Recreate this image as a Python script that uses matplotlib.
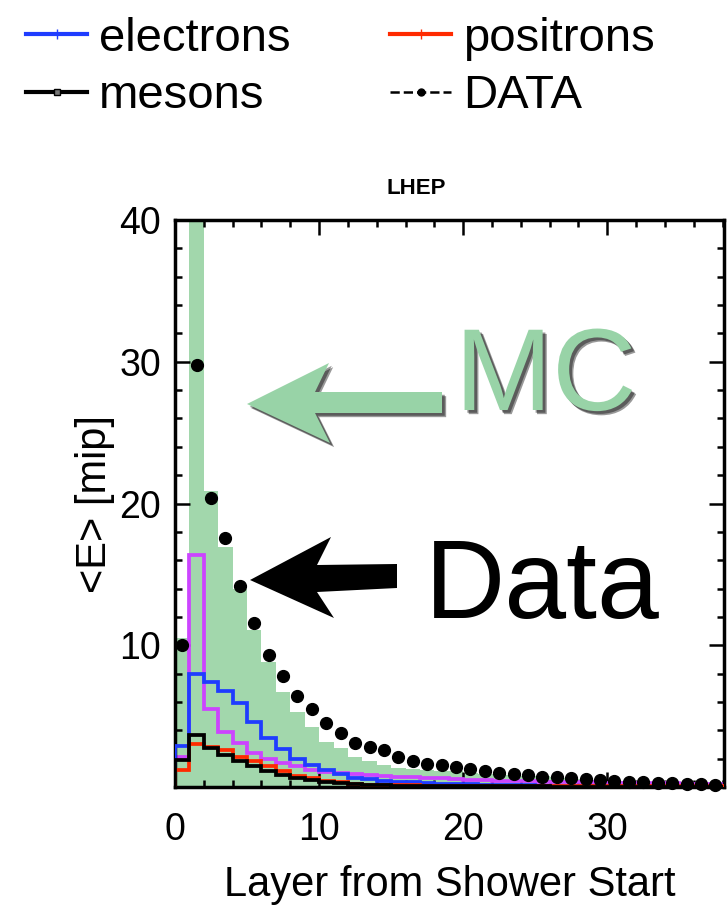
import numpy as np
import matplotlib
matplotlib.use('Agg')
import matplotlib.pyplot as plt
import matplotlib.transforms as mtrans
import matplotlib.patheffects as pe
from matplotlib.patches import Polygon
from matplotlib.lines import Line2D

plt.rcParams['font.family'] = ['Liberation Sans', 'DejaVu Sans']

# layer bins 0..38, one value per layer
edges = np.arange(0, 39)
layer_mid = edges[:-1] + 0.5

data = [10.0, 29.8, 20.4, 17.6, 14.2, 11.6, 9.3, 7.8, 6.4, 5.5,
        4.5, 3.8, 3.1, 2.8, 2.6, 2.15, 1.85, 1.65, 1.55, 1.43,
        1.28, 1.13, 1.0, 0.92, 0.85, 0.73, 0.68, 0.61, 0.56, 0.49,
        0.44, 0.37, 0.33, 0.30, 0.26, 0.21, 0.19, 0.14]

mc_band = [10.5, 45.0, 20.9, 16.9, 14.0, 11.1, 8.8, 6.7, 5.3, 4.2,
           3.2, 2.75, 2.15, 1.8, 1.55, 1.35, 1.3, 1.2, 1.15, 1.1,
           1.0, 0.95, 0.9, 0.85, 0.8, 0.75, 0.7, 0.6, 0.55, 0.5,
           0.45, 0.4, 0.35, 0.3, 0.3, 0.25, 0.25, 0.2]

electrons = [2.9, 8.0, 7.4, 6.8, 5.9, 4.6, 3.45, 2.65, 2.0, 1.55,
             1.2, 0.9, 0.65, 0.55, 0.45, 0.38, 0.32, 0.27, 0.23, 0.2,
             0.18, 0.16, 0.14, 0.12, 0.11, 0.1, 0.09, 0.08, 0.07, 0.07,
             0.06, 0.06, 0.05, 0.05, 0.05, 0.04, 0.04, 0.04]

gammas = [2.1, 16.4, 5.5, 3.9, 3.1, 2.4, 2.0, 1.67, 1.5, 1.2,
          1.08, 1.0, 0.9, 0.85, 0.75, 0.73, 0.7, 0.65, 0.6, 0.55,
          0.5, 0.48, 0.45, 0.42, 0.4, 0.38, 0.36, 0.34, 0.32, 0.3,
          0.3, 0.28, 0.27, 0.26, 0.25, 0.24, 0.23, 0.22]

positrons = [1.2, 3.0, 2.85, 2.6, 2.15, 1.8, 1.45, 1.1, 0.8, 0.6,
             0.45, 0.32, 0.22, 0.16, 0.13, 0.12, 0.11, 0.1, 0.1, 0.1,
             0.09, 0.09, 0.08, 0.08, 0.08, 0.07, 0.07, 0.07, 0.06, 0.06,
             0.06, 0.05, 0.05, 0.05, 0.05, 0.04, 0.04, 0.04]

mesons = [1.9, 3.7, 2.75, 2.25, 1.8, 1.45, 1.1, 0.85, 0.65, 0.48,
          0.36, 0.27, 0.2, 0.15, 0.12, 0.1, 0.09, 0.08, 0.07, 0.06,
          0.06, 0.05, 0.05, 0.04, 0.04, 0.04, 0.03, 0.03, 0.03, 0.03,
          0.02, 0.02, 0.02, 0.02, 0.02, 0.02, 0.02, 0.02]

legend_labels = ['electrons', 'mesons', 'positrons', 'DATA']

W, H = 728, 905
fig = plt.figure(figsize=(W / 100, H / 100), dpi=100)
ax = fig.add_axes([175 / W, 1 - 787 / H, 549 / W, 567 / H])

green = '#a2d7ac'
lw = 2.7
ax.stairs(mc_band, edges, fill=True, color=green, lw=0, zorder=1)
ax.stairs(gammas, edges, color='#cc44ff', lw=lw, zorder=2)
ax.stairs(electrons, edges, color='#1f3cff', lw=lw, zorder=3)
ax.stairs(positrons, edges, color='#ff2a00', lw=lw, zorder=4)
ax.stairs(mesons, edges, color='black', lw=lw, zorder=5)
ax.plot(layer_mid, data, 'o', color='black', ms=8.5, zorder=6, clip_on=False)

ax.set_xlim(0, 38.1)
ax.set_ylim(0, 40)
ax.set_xticks([0, 10, 20, 30])
ax.set_yticks([10, 20, 30, 40])
ax.set_xticks(np.arange(0, 39, 2), minor=True)
ax.set_yticks(np.arange(0, 41, 2), minor=True)
ax.tick_params(which='both', direction='in', top=True, right=True, width=1.8)
ax.tick_params(which='major', length=11, labelsize=27)
ax.tick_params(axis='x', which='major', pad=18)
ax.tick_params(axis='y', which='major', pad=10)
ax.tick_params(which='minor', length=5)
for s in ax.spines.values():
    s.set_linewidth(2.5)
ax.set_xlabel('Layer from Shower Start', fontsize=30, labelpad=12)
ax.set_ylabel('<E> [mip]', fontsize=30, labelpad=3)

fig.text(416 / W, 1 - 188 / H, 'LHEP', fontsize=16, fontweight='bold',
         ha='center', va='center')

# legend with marker handles
handles = [Line2D([], [], color='#1f3cff', lw=3, marker='+', ms=7),
           Line2D([], [], color='black', lw=3, marker='s', ms=5,
                  mfc='#777777'),
           Line2D([], [], color='#ff2a00', lw=3, marker='+', ms=7),
           Line2D([], [], color='black', lw=1.8, ls='--', marker='o', ms=5)]
fig.legend(handles, legend_labels, loc='upper left', ncol=2,
           bbox_to_anchor=(26 / W, 1 - 17 / H), frameon=False, fontsize=34,
           handlelength=1.3, handletextpad=0.25, columnspacing=2.1,
           labelspacing=0.28, borderpad=0, borderaxespad=0)

# annotation arrows, in pixel coordinates from the top-left
px = mtrans.Affine2D().scale(1 / W, -1 / H).translate(0, 1) + fig.transFigure
shadow = [pe.SimplePatchShadow(offset=(3, -3), shadow_rgbFace='black', alpha=0.4),
          pe.SimplePatchShadow(offset=(2, -2), shadow_rgbFace='black', alpha=0.4),
          pe.Normal()]

mc_arrow = [(247, 404), (329, 363), (315, 392), (442, 392),
            (442, 413), (315, 413), (330, 443)]
fig.patches.append(Polygon(mc_arrow, closed=True, transform=px,
                           facecolor='#98d3a7', edgecolor='none',
                           path_effects=shadow))

data_arrow = [(250, 580), (331, 537), (317, 565), (397, 564),
              (397, 588), (317, 592), (334, 618)]
fig.patches.append(Polygon(data_arrow, closed=True, transform=px,
                           facecolor='black', edgecolor='none'))

fig.text(455, 410, 'MC', transform=px, fontsize=84, color='#98d3a7',
         ha='left', va='baseline', path_effects=shadow)
fig.text(425, 618, 'Data', transform=px, fontsize=80, color='black',
         ha='left', va='baseline')

fig.savefig('out.png', dpi=100)
